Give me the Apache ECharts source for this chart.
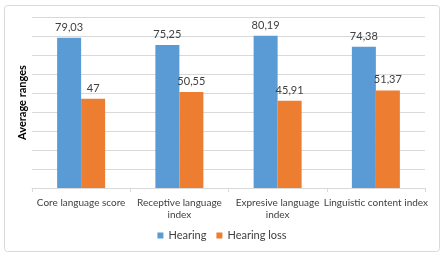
<!DOCTYPE html>
<html><head><meta charset="utf-8">
<script src="https://cdn.jsdelivr.net/npm/echarts@6/dist/echarts.min.js"></script>
<style>html,body{margin:0;padding:0;background:#fff}#c{width:444px;height:257px}</style>
</head><body><div id="c"></div>
<script>
const categories = ['Core language score', 'Receptive language\nindex', 'Expresive language\nindex', 'Linguistic content index'];
const hearing = [79.03, 75.25, 80.19, 74.38];
const hearingLoss = [47, 50.55, 45.91, 51.37];
const seriesNames = ['Hearing', 'Hearing loss'];
const yAxisTitle = 'Average ranges';

const fmt = p => String(p.value).replace('.', ',');
const font = 'Lato, Liberation Sans, sans-serif';
const chart = echarts.init(document.getElementById('c'), null, {renderer: 'canvas'});
chart.setOption({
  animation: false,
  textStyle: {fontFamily: font},
  graphic: [{type: 'rect', shape: {x: 4.5, y: 5.5, width: 435, height: 246, r: 3}, style: {fill: 'none', stroke: '#d9d9d9', lineWidth: 1}}],
  grid: {left: 32, right: 19, top: 17, bottom: 69},
  legend: {
    data: seriesNames, top: 225, left: 'center', itemWidth: 6, itemHeight: 6, itemGap: 10,
    icon: 'rect', textStyle: {fontSize: 11, color: '#404040', fontFamily: font}
  },
  xAxis: {
    type: 'category', data: categories,
    axisLine: {lineStyle: {color: '#d9d9d9'}},
    axisTick: {show: true, length: 4, lineStyle: {color: '#d9d9d9'}},
    axisLabel: {fontSize: 10, color: '#404040', lineHeight: 12, margin: 9, interval: 0, fontFamily: font}
  },
  yAxis: {
    type: 'value', min: 0, max: 90, interval: 10,
    name: yAxisTitle, nameLocation: 'middle', nameGap: 4, nameRotate: 90,
    nameTextStyle: {fontSize: 11, fontWeight: 'bold', color: '#000', fontFamily: font},
    axisLabel: {show: false}, axisLine: {show: false}, axisTick: {show: false},
    splitLine: {lineStyle: {color: '#d9d9d9'}}
  },
  series: [
    {name: seriesNames[0], type: 'bar', data: hearing, barWidth: 24, barGap: '0%', itemStyle: {color: '#5b9bd5'},
     label: {show: true, position: 'top', formatter: fmt, fontSize: 11, color: '#404040', distance: 5, fontFamily: font}},
    {name: seriesNames[1], type: 'bar', data: hearingLoss, barWidth: 24, itemStyle: {color: '#ed7d31'},
     label: {show: true, position: 'top', formatter: fmt, fontSize: 11, color: '#404040', distance: 5, fontFamily: font}}
  ]
});
</script></body></html>
